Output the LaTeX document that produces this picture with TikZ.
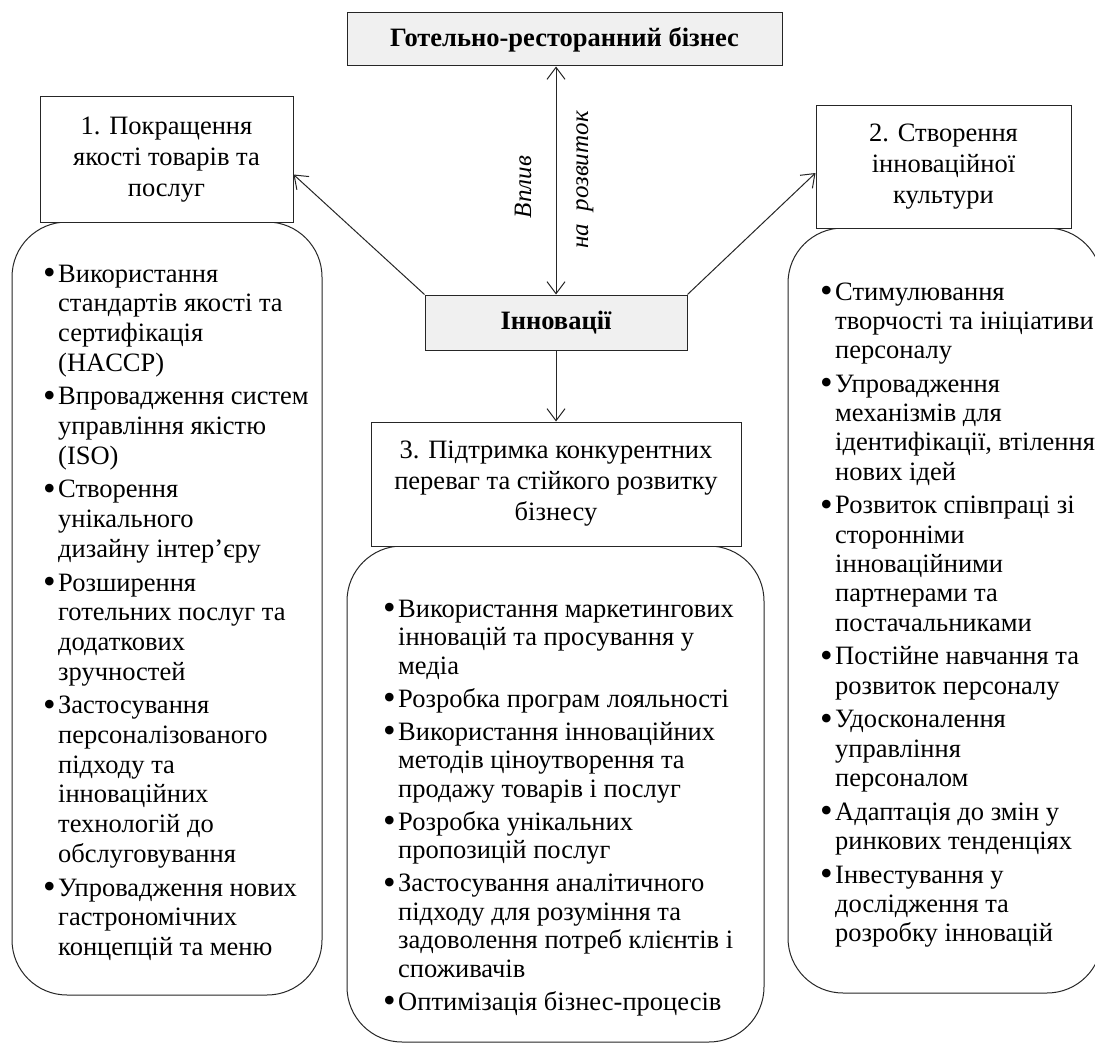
\documentclass[tikz,border=0pt]{standalone}
\usepackage{fontspec}
\setmainfont{Liberation Serif}
\usetikzlibrary{arrows.meta}
\newcommand{\bul}{\makebox[15pt][l]{\raisebox{-2.5pt}{\fontsize{36}{30}\selectfont •}}}
\begin{document}
\begin{tikzpicture}[x=1pt,y=-1pt,
  every node/.style={font=\fontsize{26.5}{30}\selectfont},
  ln/.style={line width=1pt, draw=black!85},
  tbox/.style={ln, rectangle, fill=white, align=center, inner sep=0pt, font=\fontsize{26.5}{31}\selectfont},
  gbox/.style={ln, rectangle, fill=black!6, inner sep=0pt, font=\bfseries\fontsize{26.5}{30}\selectfont},
  rbox/.style={ln, rectangle, rounded corners=55pt, fill=white, inner sep=0pt},
  lstA/.style={anchor=base west, inner sep=0pt, font=\fontsize{26.5}{29.7}\selectfont},
  lstB/.style={anchor=base west, inner sep=0pt, font=\fontsize{26.5}{29.3}\selectfont},
  lstC/.style={anchor=base west, inner sep=0pt, font=\fontsize{26.5}{28.5}\selectfont},
  barb/.tip={Straight Barb[length=12pt,width=18pt,line width=1pt]},
  arr/.style={line width=1pt, draw=black!85, -barb},
  lbl/.style={rotate=90, inner sep=0pt, font=\itshape\fontsize{25}{30}\selectfont},
]
\useasboundingbox (0,0) rectangle (1095,1046);

% rounded list frames
\node[rbox, minimum width=310, minimum height=773] (r1) at (167,608.5) {};
\node[rbox, minimum width=314, minimum height=765] (r2) at (945,610.5) {};
\node[rbox, minimum width=417, minimum height=496] (r3) at (555.5,794) {};

% title boxes
\node[tbox, minimum width=253, minimum height=125] (b1) at (166.5,159.5) {1. Покращення\\якості товарів та\\послуг};
\node[tbox, minimum width=255, minimum height=122] (b2) at (943.5,167) {2. Створення\\інноваційної\\культури};
\node[tbox, minimum width=370, minimum height=124] (b3) at (556,484) {3. Підтримка конкурентних\\переваг та стійкого розвитку\\бізнесу};

\node[gbox, minimum width=435, minimum height=53] (top) at (564.5,39.5) {Готельно-ресторанний бізнес};
\node[gbox, minimum width=262, minimum height=55] (inn) at (556,322.5) {Інновації};

% connectors
\draw[arr] (inn.north west) -- ([yshift=-15pt]b1.east);
\draw[arr] (inn.north east) -- ([yshift=-6pt]b2.west);
\draw[arr, barb-barb] (inn.north) -- (inn.north |- top.south);
\draw[arr] (inn.south) -- (b3.north);

\node[lbl] (vpl) at (523,187) {Вплив};
\node[lbl] (nar) at (585,180) {на\ \ розвиток};

% lists
\node[lstA] (l1) at (43,282) {\begin{tabular}[t]{@{}l@{}l@{}}
\bul&Використання\\
&стандартів якості та\\
&сертифікація\\
&(HACCP)\\[4pt]
\bul&Впровадження систем\\
&управління якістю\\
&(ISO)\\[4pt]
\bul&Створення\\
&унікального\\
&дизайну інтер’єру\\[4pt]
\bul&Розширення\\
&готельних послуг та\\
&додаткових\\
&зручностей\\[4pt]
\bul&Застосування\\
&персоналізованого\\
&підходу та\\
&інноваційних\\
&технологій до\\
&обслуговування\\[4pt]
\bul&Упровадження нових\\
&гастрономічних\\
&концепцій та меню
\end{tabular}};

\node[lstB] (l2) at (820,300) {\begin{tabular}[t]{@{}l@{}l@{}}
\bul&Стимулювання\\
&творчості та ініціативи\\
&персоналу\\[4.4pt]
\bul&Упровадження\\
&механізмів для\\
&ідентифікації, втілення\\
&нових ідей\\[4.4pt]
\bul&Розвиток співпраці зі\\
&сторонніми\\
&інноваційними\\
&партнерами та\\
&постачальниками\\[4.4pt]
\bul&Постійне навчання та\\
&розвиток персоналу\\[4.4pt]
\bul&Удосконалення\\
&управління\\
&персоналом\\[4.4pt]
\bul&Адаптація до змін у\\
&ринкових тенденціях\\[4.4pt]
\bul&Інвестування у\\
&дослідження та\\
&розробку інновацій
\end{tabular}};

\node[lstC] (l3) at (383,617) {\begin{tabular}[t]{@{}l@{}l@{}}
\bul&Використання маркетингових\\
&інновацій та просування у\\
&медіа\\[4.5pt]
\bul&Розробка програм лояльності\\[4.5pt]
\bul&Використання інноваційних\\
&методів ціноутворення та\\
&продажу товарів і послуг\\[4.5pt]
\bul&Розробка унікальних\\
&пропозицій послуг\\[4.5pt]
\bul&Застосування аналітичного\\
&підходу для розуміння та\\
&задоволення потреб клієнтів і\\
&споживачів\\[4.5pt]
\bul&Оптимізація бізнес-процесів
\end{tabular}};
\end{tikzpicture}
\end{document}
